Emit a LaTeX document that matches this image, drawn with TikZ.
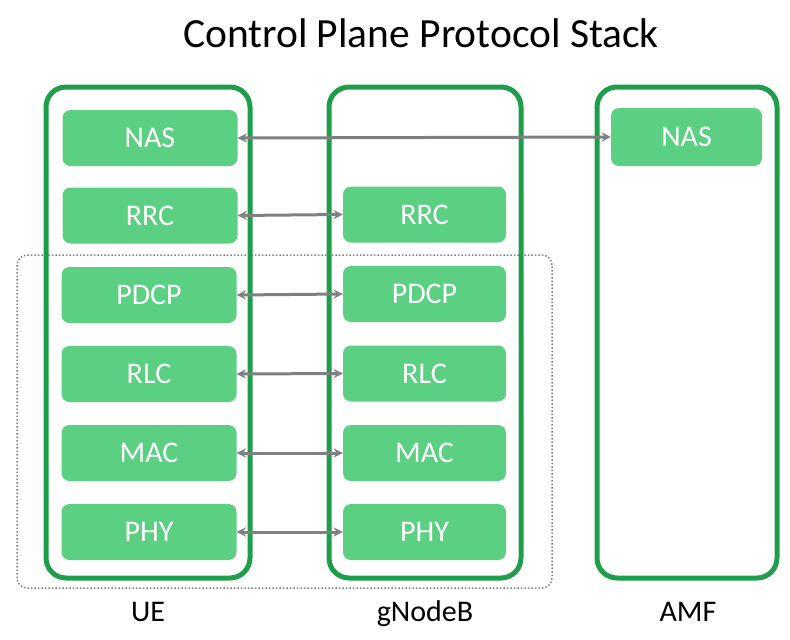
\documentclass[tikz,border=0pt]{standalone}
\usepackage{fontspec}
\setmainfont{Carlito}
\definecolor{layerfill}{RGB}{91,207,130}
\definecolor{stackline}{RGB}{30,158,75}
\definecolor{linkgray}{RGB}{128,128,128}
\tikzset{
  stackbox/.style={draw=stackline,line width=5pt,rounded corners=20pt,minimum width=#1,minimum height=491pt,inner sep=0pt},
  layer/.style={fill=layerfill,draw=none,rounded corners=8pt,minimum width=#1,minimum height=56pt,inner sep=0pt,text=white,font=\fontsize{30}{32}\selectfont},
  peer/.style={<->,draw=linkgray,line width=3pt},
  entity/.style={font=\fontsize{30}{32}\selectfont,anchor=base}
}
\begin{document}
\begin{tikzpicture}[>=stealth,x=1pt,y=-1pt]
		\useasboundingbox (0,0) rectangle (790,640);
		\node (title) at (421,33) {\fontsize{41.5}{44}\selectfont Control Plane Protocol Stack};
		\draw [color=gray,line width=1.5pt,dotted,rounded corners=10pt] (17,255) rectangle (552,588);
		\node[stackbox=204pt] (ue) at (148,332.5) {};
		\node[stackbox=192pt] (gnb) at (425,332.5) {};
		\node[stackbox=180pt] (amf) at (687,332.5) {};
		\node[layer=175pt] (ue-nas) at (150,138) {NAS};
		\node[layer=175pt] (ue-rrc) at (150,215.5) {RRC};
		\node[layer=175pt] (ue-pdcp) at (149,295) {PDCP};
		\node[layer=175pt] (ue-rlc) at (149,374) {RLC};
		\node[layer=175pt] (ue-mac) at (149,453) {MAC};
		\node[layer=175pt] (ue-phy) at (149,532) {PHY};
		\node[layer=163pt] (gnb-rrc) at (424.5,214.5) {RRC};
		\node[layer=163pt] (gnb-pdcp) at (424.5,294) {PDCP};
		\node[layer=163pt] (gnb-rlc) at (424.5,373.5) {RLC};
		\node[layer=163pt] (gnb-mac) at (424.5,453) {MAC};
		\node[layer=163pt] (gnb-phy) at (424.5,532) {PHY};
		\node[layer=151pt,minimum height=58pt] (amf-nas) at (686.5,137) {NAS};
		\draw[peer] (ue-nas.east) -- (amf-nas.west);
		\draw[peer] (ue-rrc.east) -- (gnb-rrc.west);
		\draw[peer] (ue-pdcp.east) -- (gnb-pdcp.west);
		\draw[peer] (ue-rlc.east) -- (gnb-rlc.west);
		\draw[peer] (ue-mac.east) -- (gnb-mac.west);
		\draw[peer] (ue-phy.east) -- (gnb-phy.west);
		\node[entity] (ue-label) at (148,621) {UE};
		\node[entity] (gnb-label) at (425,621) {gNodeB};
		\node[entity] (amf-label) at (688,621) {AMF};
		\end{tikzpicture}
\end{document}
